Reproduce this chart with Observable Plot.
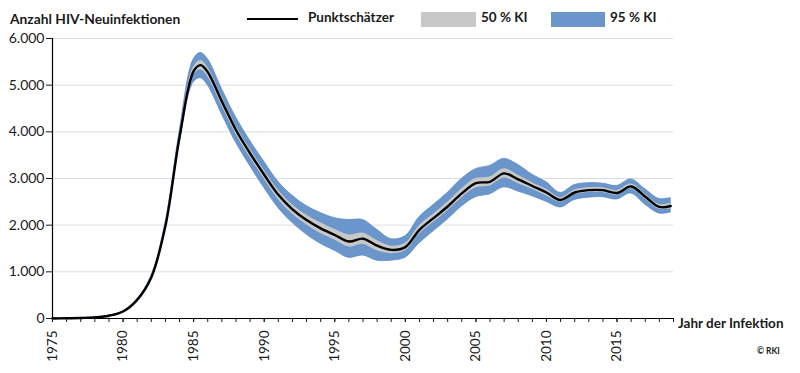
<!DOCTYPE html>
<html>
<head>
<meta charset="utf-8">
<script src="https://cdn.jsdelivr.net/npm/d3@7"></script>
<script src="https://cdn.jsdelivr.net/npm/@observablehq/plot@0.6"></script>
<style>
  body { margin: 0; background: #fff; }
  #wrap { position: relative; width: 800px; height: 373px; font-family: Lato, "Open Sans", sans-serif; color: #1a1a1a; }
  .t { position: absolute; font-weight: bold; white-space: nowrap; }
  .sw { position: absolute; }
</style>
</head>
<body>
<div id="wrap">
  <div id="chart"></div>
  <div class="t" style="left:10px; top:10px; font-size:13.8px;">Anzahl HIV-Neuinfektionen</div>
  <div class="sw" style="left:247px; top:18px; width:51px; height:1.5px; background:#000;"></div>
  <div class="t" style="left:308px; top:9px; font-size:13.5px;">Punktschätzer</div>
  <div class="sw" style="left:421px; top:12px; width:55px; height:15px; background:#c8c8c8;"></div>
  <div class="t" style="left:481px; top:9px; font-size:13.5px;">50 % KI</div>
  <div class="sw" style="left:551px; top:12px; width:54px; height:15px; background:#6b96cc;"></div>
  <div class="t" style="left:610px; top:9px; font-size:13.5px;">95 % KI</div>
  <div class="t" style="left:678px; top:315px; font-size:13.5px;">Jahr der Infektion</div>
  <div class="t" style="left:757px; top:346px; font-size:8.5px;">© RKI</div>
</div>
<script>
const years = [1975,1976,1977,1978,1979,1980,1981,1982,1983,1984,1985,1985.5,1986,1987,1988,1989,1990,1991,1992,1993,1994,1995,1996,1997,1998,1999,2000,2001,2002,2003,2004,2005,2006,2007,2008,2009,2010,2011,2012,2013,2014,2015,2016,2017,2018,2018.8];
const estimate = [0,5,10,25,60,150,400,880,1980,3880,5300,5430,5280,4650,4040,3540,3080,2650,2340,2110,1930,1790,1650,1710,1560,1470,1530,1900,2150,2400,2680,2900,2930,3110,2980,2840,2700,2540,2700,2750,2750,2690,2830,2610,2390,2410];
const low95 = [0,5,10,25,60,148,390,850,1920,3770,5060,5150,5000,4380,3770,3270,2800,2370,2050,1800,1600,1450,1300,1350,1240,1240,1300,1610,1870,2120,2400,2600,2660,2810,2720,2620,2500,2380,2540,2590,2600,2550,2680,2440,2250,2270];
const high95 = [0,5,10,25,60,152,410,910,2040,3990,5550,5690,5560,4920,4310,3810,3360,2930,2630,2410,2260,2150,2110,2110,1900,1700,1760,2170,2430,2690,2990,3200,3270,3420,3290,3080,2920,2690,2860,2900,2890,2840,2980,2770,2560,2580];
const low50 = [0,5,10,25,60,149,397,870,1960,3840,5210,5330,5180,4560,3950,3450,2990,2550,2240,2010,1820,1680,1530,1590,1450,1390,1450,1810,2060,2310,2580,2800,2840,3010,2890,2770,2630,2490,2650,2700,2700,2640,2780,2560,2340,2350];
const high50 = [0,5,10,25,60,151,403,890,2000,3920,5390,5530,5380,4740,4130,3630,3170,2750,2440,2220,2050,1910,1790,1830,1670,1550,1610,1990,2240,2490,2780,3000,3030,3210,3070,2910,2770,2590,2750,2800,2800,2740,2880,2660,2440,2470];

const yTicks = [0,1000,2000,3000,4000,5000,6000];
const xMinor = d3.range(1975, 2020);
const xLabels = [1975,1980,1985,1990,1995,2000,2005,2010,2015];

const data = years.map((y, i) => ({year: y, est: estimate[i], lo95: low95[i], hi95: high95[i], lo50: low50[i], hi50: high50[i]}));
const de = d3.formatLocale({decimal: ",", thousands: ".", grouping: [3], currency: ["", "€"]});
const fmt = de.format(",d");

const chart = Plot.plot({
  width: 800,
  height: 373,
  marginLeft: 52,
  marginRight: 127,
  marginTop: 38,
  marginBottom: 55,
  style: {fontFamily: "Lato, 'Open Sans', sans-serif", fontSize: "13px", color: "#1a1a1a", background: "transparent"},
  x: {domain: [1975, 2019]},
  y: {domain: [0, 6000]},
  marks: [
    Plot.ruleY(yTicks.slice(1), {stroke: "#dcdcdc", strokeWidth: 1}),
    Plot.areaY(data, {x: "year", y1: "lo95", y2: "hi95", fill: "#6b96cc", stroke: "#5a86c0", strokeWidth: 0.8, curve: "catmull-rom"}),
    Plot.areaY(data, {x: "year", y1: "lo50", y2: "hi50", fill: "#c8c8c8", curve: "catmull-rom"}),
    Plot.lineY(data, {x: "year", y: "est", stroke: "#000", strokeWidth: 2.4, curve: "catmull-rom"}),
    Plot.ruleY([0], {stroke: "#000", strokeWidth: 1.2}),
    Plot.ruleX([1975], {y1: 0, y2: 6000, stroke: "#000", strokeWidth: 1.2}),
    Plot.axisY({ticks: yTicks, tickFormat: fmt, tickSize: 6, tickPadding: 2, label: null, fontSize: 14}),
    Plot.axisX({ticks: xMinor, tickSize: 4, tickFormat: () => "", label: null}),
    Plot.axisX({ticks: xLabels, tickSize: 4, tickRotate: -90, tickPadding: 8, tickFormat: d => String(d), label: null, fontSize: 13.5})
  ]
});
document.getElementById("chart").appendChild(chart);
</script>
</body>
</html>
